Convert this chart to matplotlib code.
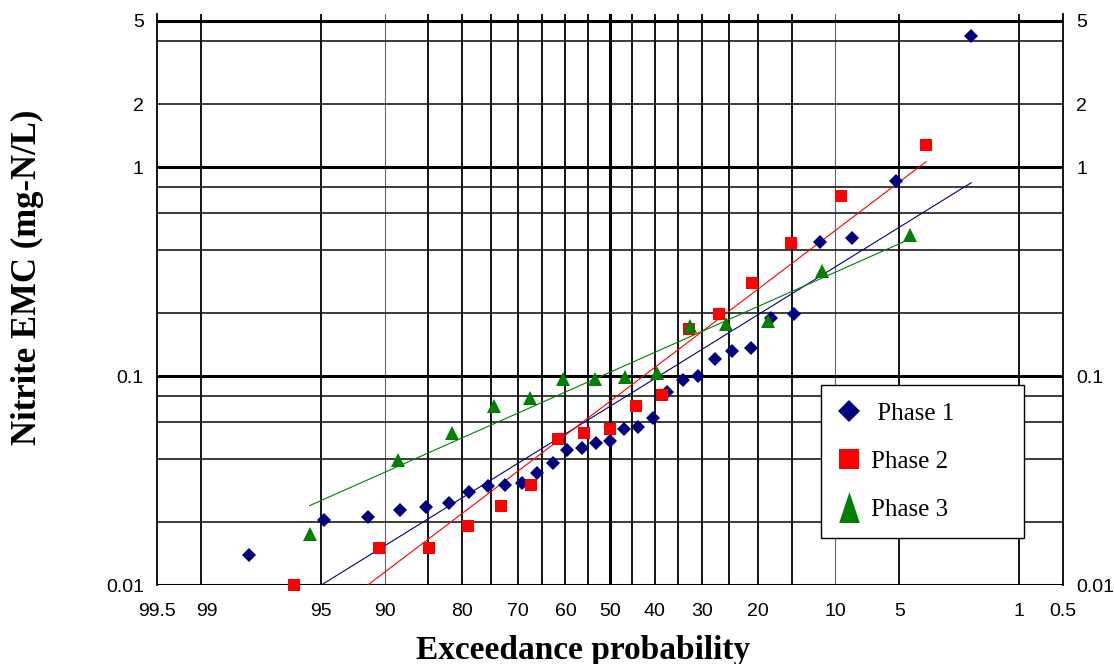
import numpy as np
import matplotlib
matplotlib.use("Agg")
import matplotlib.pyplot as plt
import matplotlib.transforms as mtransforms
from matplotlib.lines import Line2D
from matplotlib.path import Path
from matplotlib.ticker import NullLocator
from statistics import NormalDist

# Exceedance probability (%) and nitrite EMC (mg-N/L) for each monitoring phase
phase1_exceedance = [2.0, 5.2, 8.4, 11.6, 14.8, 18.0, 21.2, 24.4, 27.6, 30.8,
                     34.0, 37.2, 40.4, 43.6, 46.8, 50.0, 53.2, 56.4, 59.6, 62.8,
                     66.0, 69.2, 72.4, 75.6, 78.8, 82.0, 85.2, 88.4, 91.6, 94.8, 98.0]
phase1_emc = [4.25, 0.860, 0.459, 0.436, 0.197, 0.189, 0.136, 0.132, 0.121, 0.100,
              0.0957, 0.0838, 0.0630, 0.0570, 0.0558, 0.0487, 0.0478, 0.0452, 0.0441, 0.0382,
              0.0342, 0.0309, 0.0300, 0.0297, 0.0278, 0.0248, 0.0235, 0.0228, 0.0212, 0.0205,
              0.0139]

phase2_exceedance = [3.62, 9.42, 15.22, 21.01, 26.81, 32.61, 38.41, 44.20, 50.00,
                     55.80, 61.59, 67.39, 73.19, 78.99, 84.78, 90.58, 96.38]
phase2_emc = [1.27, 0.729, 0.433, 0.280, 0.197, 0.168, 0.0814, 0.0721, 0.0556,
              0.0535, 0.0499, 0.0301, 0.0239, 0.0191, 0.0151, 0.0151, 0.0100]

phase3_exceedance = [4.39, 11.40, 18.42, 25.44, 32.46, 39.47, 46.49, 53.51, 60.53,
                     67.54, 74.56, 81.58, 88.60, 95.61]
phase3_emc = [0.473, 0.319, 0.184, 0.177, 0.173, 0.103, 0.0986, 0.0964, 0.0964,
              0.0788, 0.0721, 0.0532, 0.0395, 0.0176]

# Log-normal trend lines (end points)
phase1_fit_exceedance = [98.0, 2.0]
phase1_fit_emc = [0.0061, 0.841]
phase2_fit_exceedance = [96.38, 3.62]
phase2_fit_emc = [0.0054, 1.06]
phase3_fit_exceedance = [95.61, 4.39]
phase3_fit_emc = [0.0240, 0.453]

series_labels = ["Phase 1", "Phase 2", "Phase 3"]

# Axis ticks and probability-paper grid
prob_ticks = [99.5, 99, 95, 90, 80, 70, 60, 50, 40, 30, 20, 10, 5, 1, 0.5]
prob_tick_labels = ["99.5", "99", "95", "90", "80", "70", "60", "50", "40",
                    "30", "20", "10", "5", "1", "0.5"]
emc_ticks = [0.01, 0.1, 1, 2, 5]
emc_tick_labels = ["0.01", "0.1", "1", "2", "5"]
prob_grid = [99, 95, 90, 85, 80, 75, 70, 65, 60, 55, 50, 45, 40, 35, 30, 25, 20,
             15, 10, 5, 1]
emc_grid = [5, 4, 2, 1, 0.8, 0.6, 0.4, 0.2, 0.1, 0.08, 0.06, 0.04, 0.02, 0.01]

NAVY = "#000080"
RED = "#FF0000"
GREEN = "#008000"
SANS = "Liberation Sans"
SERIF = "Liberation Serif"

_nd = NormalDist()
_inv = np.vectorize(_nd.inv_cdf, otypes=[float])
_cdf = np.vectorize(_nd.cdf, otypes=[float])


def prob_to_z(p):
    p = np.clip(np.asarray(p, dtype=float) / 100.0, 1e-9, 1 - 1e-9)
    return _inv(p)


def z_to_prob(z):
    return 100.0 * _cdf(np.asarray(z, dtype=float))


fig = plt.figure(figsize=(11.14, 6.64), dpi=100)
ax = fig.add_axes([157 / 1114, 79 / 664, 906 / 1114, 571 / 664])
ax.set_yscale("log")
ax.set_xscale("function", functions=(prob_to_z, z_to_prob))
ax.set_xlim(99.5, 0.5)
ax.set_ylim(0.01, 5.4)

# grid
for p in prob_grid:
    if p == 50:
        ax.axvline(p, color="black", lw=2.2, zorder=1)
    elif p in (90, 10):
        ax.axvline(p, color="#666666", lw=0.8, zorder=1)
    else:
        ax.axvline(p, color="black", lw=1.3, zorder=1)
for v in emc_grid:
    if v in (5, 1, 0.1, 0.01):
        ax.axhline(v, color="black", lw=2.2, zorder=1)
    else:
        ax.axhline(v, color="#1a1a1a", lw=1.2, zorder=1)

for side in ("top", "bottom"):
    ax.spines[side].set_visible(False)
for side in ("left", "right"):
    ax.spines[side].set_color("black")
    ax.spines[side].set_linewidth(1.3)

# trend lines
ax.plot(phase1_fit_exceedance, phase1_fit_emc, color=NAVY, lw=0.8, zorder=2)
ax.plot(phase2_fit_exceedance, phase2_fit_emc, color=RED, lw=0.8, zorder=2)
ax.plot(phase3_fit_exceedance, phase3_fit_emc, color=GREEN, lw=0.8, zorder=2)

# observations
ax.plot(phase1_exceedance, phase1_emc, ls="none", marker="D", ms=6.8,
        mfc=NAVY, mec=NAVY, mew=0, color=NAVY, zorder=3, clip_on=False)
ax.plot(phase2_exceedance, phase2_emc, ls="none", marker="s", ms=8.8,
        mfc=RED, mec=RED, mew=0, color=RED, zorder=3, clip_on=False)
ax.plot(phase3_exceedance, phase3_emc, ls="none", marker="^", ms=9.6,
        mfc=GREEN, mec=GREEN, mew=0, color=GREEN, zorder=3, clip_on=False)

# ticks
ax.set_xticks(prob_ticks, labels=prob_tick_labels)
ax.xaxis.set_minor_locator(NullLocator())
ax.set_yticks(emc_ticks, labels=emc_tick_labels)
ax.yaxis.set_minor_locator(NullLocator())
ax.tick_params(axis="x", length=0, pad=13, labelsize=14)
ax.tick_params(axis="y", length=0, pad=9.5, labelsize=14,
               left=False, right=False, labelleft=True, labelright=True)
for t in ax.xaxis.get_major_ticks():
    t.label1.set_fontfamily(SANS)
for t in ax.yaxis.get_major_ticks():
    t.label1.set_fontfamily(SANS)
    t.label2.set_fontfamily(SANS)
shift = mtransforms.ScaledTranslation(6 / 100, 0, fig.dpi_scale_trans)
for t, txt in zip(ax.xaxis.get_major_ticks(), prob_tick_labels):
    if txt == "99":
        t.label1.set_transform(t.label1.get_transform() + shift)

# axis titles
ax.set_xlabel("Exceedance probability", fontsize=24, fontweight="bold",
              fontfamily=SERIF, va="center")
ax.xaxis.set_label_coords(0.4707, -0.114)
ax.set_ylabel("Nitrite EMC (mg-N/L)", fontsize=25, fontweight="bold",
              fontfamily=SERIF, va="center")
ax.yaxis.set_label_coords(-0.1435, 0.538)

# legend
tall_triangle = Path([(0, 1.5), (-1, -1.5), (1, -1.5), (0, 1.5)],
                     [Path.MOVETO, Path.LINETO, Path.LINETO, Path.CLOSEPOLY])
handles = [
    Line2D([], [], ls="none", marker="D", ms=10.7, mfc=NAVY, mec=NAVY, mew=0),
    Line2D([], [], ls="none", marker="s", ms=15.1, mfc=RED, mec=RED, mew=0),
    Line2D([], [], ls="none", marker=tall_triangle, ms=22.3, mfc=GREEN, mec=GREEN, mew=0),
]
leg = ax.legend(handles, [" " + series_labels[0]] + series_labels[1:],
                loc="upper left", bbox_to_anchor=(0.7329, 0.0, 0.2241, 0.3503),
                mode="expand", borderaxespad=0, borderpad=0.7, handlelength=0.84,
                handletextpad=0.46, labelspacing=1.02, fancybox=False,
                framealpha=1, edgecolor="black",
                prop={"family": SERIF, "size": 18})
leg.get_frame().set_linewidth(1.0)
leg.set_zorder(5)

fig.savefig("out.png", dpi=100, facecolor="white")
